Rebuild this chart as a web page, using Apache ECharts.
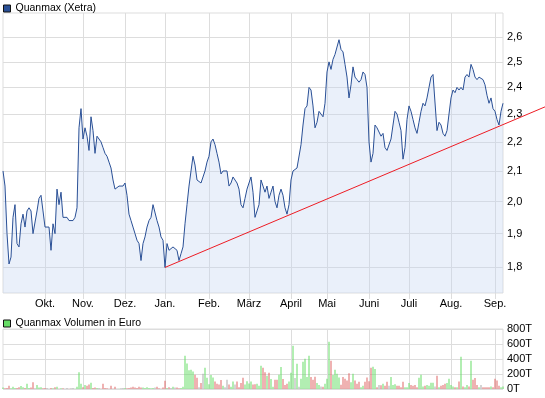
<!DOCTYPE html>
<html>
<head>
<meta charset="utf-8">
<script src="https://cdn.jsdelivr.net/npm/echarts@6/dist/echarts.min.js"></script>
<style>
html,body{margin:0;padding:0;background:#fff;}
#chart{width:545px;height:398px;}
</style>
</head>
<body>
<div id="chart"></div>
<script>
// Daily closing prices (EUR), Xetra
const price = [
2.10,2.05,1.90,1.81,1.83,1.95,1.99,1.87,1.86,1.93,
1.96,1.92,1.97,1.98,1.97,1.90,1.90,1.97,2.01,2.02,
1.97,1.92,1.92,1.92,1.85,1.93,1.90,2.04,1.99,2.03,
1.95,1.95,1.95,1.94,1.94,1.94,1.95,1.98,2.25,2.32,
2.21,2.25,2.22,2.17,2.29,2.24,2.16,2.22,2.22,2.20,
2.18,2.16,2.15,2.13,2.11,2.07,2.04,2.04,2.05,2.05,
2.05,2.06,2.02,1.96,1.94,1.92,1.90,1.88,1.87,1.82,
1.87,1.89,1.92,1.94,1.95,1.99,1.99,1.94,1.92,1.89,
1.88,1.80,1.87,1.85,1.85,1.86,1.86,1.85,1.82,1.84,
1.86,1.93,1.99,2.05,2.10,2.15,2.12,2.07,2.07,2.06,
2.06,2.10,2.13,2.15,2.20,2.21,2.19,2.16,2.13,2.09,
2.10,2.10,2.10,2.05,2.06,2.08,2.08,2.06,2.04,1.99,
1.98,2.01,2.04,2.06,2.08,2.03,1.95,1.97,1.99,2.07,
2.05,2.03,2.05,2.01,2.03,2.05,2.00,1.98,2.02,2.04,
2.02,1.98,1.96,1.99,2.07,2.10,2.10,2.11,2.11,2.19,
2.26,2.32,2.33,2.40,2.39,2.33,2.25,2.27,2.31,2.31,
2.29,2.34,2.46,2.50,2.47,2.51,2.53,2.56,2.59,2.55,
2.54,2.49,2.44,2.36,2.41,2.48,2.44,2.43,2.42,2.43,
2.46,2.45,2.40,2.20,2.13,2.16,2.26,2.25,2.25,2.22,
2.23,2.18,2.17,2.17,2.21,2.26,2.31,2.30,2.27,2.24,
2.14,2.18,2.28,2.33,2.31,2.28,2.25,2.23,2.27,2.31,
2.34,2.33,2.36,2.40,2.44,2.45,2.45,2.24,2.27,2.26,
2.23,2.22,2.24,2.30,2.36,2.39,2.38,2.40,2.39,2.40,
2.39,2.44,2.45,2.44,2.49,2.47,2.44,2.43,2.44,2.44,
2.43,2.41,2.37,2.34,2.36,2.32,2.31,2.28,2.26,2.31,
2.34
];
// Daily turnover (thousand EUR)
const volume = [
20,10,15,45,10,30,15,15,25,40,
25,15,70,15,20,90,10,55,20,25,
10,15,15,5,15,10,25,30,5,10,
10,5,15,5,10,15,5,30,222,70,
25,55,45,60,85,15,20,15,15,5,
70,15,10,5,45,5,30,5,5,10,
15,15,10,15,20,30,20,15,30,20,
20,15,25,15,10,15,20,30,10,5,
20,110,15,25,15,30,20,20,10,15,
30,444,340,250,257,235,190,150,25,80,
205,285,150,65,186,155,100,70,60,120,
45,25,124,60,30,100,60,100,25,80,
150,60,105,75,100,60,65,70,45,310,
285,222,178,218,133,30,124,124,190,293,
133,55,70,100,218,577,146,337,30,138,
364,404,160,444,160,124,164,80,53,35,
30,70,138,630,377,186,257,204,155,58,
160,138,115,209,89,204,115,70,98,25,
45,98,155,102,285,298,266,25,55,50,
70,45,98,45,160,55,65,45,45,25,
98,25,25,80,55,45,55,25,151,190,
35,45,55,45,85,85,35,178,25,45,
55,70,80,138,55,35,25,25,100,430,
35,25,55,35,377,124,146,55,25,55,
25,25,25,25,35,25,138,115,45,25,
35
];
const monthNames = ['Okt.','Nov.','Dez.','Jan.','Feb.','März','April','Mai','Juni','Juli','Aug.','Sep.'];
const monthStart = [21,40,61,81,103,123,144,162,183,203,224,246];
const priceTicks = [1.8,1.9,2.0,2.1,2.2,2.3,2.4,2.5,2.6];
const priceRange = [1.728,2.703];
const volTicks = {min:0,max:800,step:200};
// trend line: [day index, price]
const trend = [[81,1.80],[271,2.3265]];

const days = price.map((_, i) => String(i));
const FONT = 'Liberation Sans';
const GRID = '#dddddd';
const isMonth = (i) => monthStart.indexOf(i) >= 0;
const hidden = {axisLine:{show:false}, axisTick:{show:false}, axisLabel:{show:false}, splitLine:{show:false}};

const chart = echarts.init(document.getElementById('chart'), null, {renderer:'canvas'});
chart.setOption({
  animation:false,
  backgroundColor:'#ffffff',
  textStyle:{fontFamily:FONT},
  legend:[
    {data:[{name:'Quanmax (Xetra)', itemStyle:{color:'#2a5096', borderColor:'#111', borderWidth:1}}],
     left:3, top:3, padding:0, itemWidth:7, itemHeight:7, icon:'rect', selectedMode:false,
     textStyle:{fontSize:10.5, color:'#000', fontFamily:FONT}},
    {data:[{name:'Quanmax Volumen in Euro', itemStyle:{color:'#66dd66', borderColor:'#111', borderWidth:1}}],
     left:3, top:318, padding:0, itemWidth:7, itemHeight:7, icon:'rect', selectedMode:false,
     textStyle:{fontSize:10.5, color:'#000', fontFamily:FONT}}
  ],
  grid:[
    {left:3, top:13, width:500, height:280, show:true, borderColor:GRID, borderWidth:1, backgroundColor:'transparent', containLabel:false},
    {left:3, top:329, width:500, height:60, show:true, borderColor:GRID, borderWidth:1, backgroundColor:'transparent', containLabel:false},
    {left:3, top:13, width:542, height:280, show:false, containLabel:false}
  ],
  xAxis:[
    {type:'category', gridIndex:0, data:days, boundaryGap:false,
     axisLine:{show:false},
     axisTick:{show:true, length:6, interval:(i)=>isMonth(i), lineStyle:{color:GRID}},
     axisLabel:{interval:(i)=>isMonth(i), margin:5, fontSize:11, color:'#000', fontFamily:FONT,
       formatter:(v, i)=> monthNames[monthStart.indexOf(Number(v))] || ''},
     splitLine:{show:true, interval:(i)=>isMonth(i), lineStyle:{color:GRID, width:1}}},
    {type:'category', gridIndex:1, data:days, boundaryGap:false,
     axisLine:{show:false}, axisTick:{show:false}, axisLabel:{show:false},
     splitLine:{show:true, interval:(i)=>isMonth(i), lineStyle:{color:GRID, width:1}}},
    Object.assign({type:'value', gridIndex:2, min:0, max:271}, hidden)
  ],
  yAxis:[
    Object.assign({type:'log', gridIndex:0, min:priceRange[0], max:priceRange[1], logBase:10}, hidden),
    {type:'value', gridIndex:1, position:'right', min:volTicks.min, max:volTicks.max, interval:volTicks.step,
     axisLine:{show:false}, axisTick:{show:false},
     axisLabel:{margin:4, fontSize:11, color:'#000', fontFamily:FONT, formatter:'{value}T'},
     splitLine:{show:true, lineStyle:{color:GRID, width:1}}},
    Object.assign({type:'log', gridIndex:2, min:priceRange[0], max:priceRange[1], logBase:10}, hidden)
  ],
  series:[
    {type:'line', xAxisIndex:0, yAxisIndex:0, data:price, silent:true, symbol:'none', z:1,
     lineStyle:{opacity:0}, tooltip:{show:false},
     markLine:{silent:true, symbol:'none', z:1, animation:false,
       lineStyle:{color:GRID, width:1, type:'solid'},
       label:{show:true, position:'end', distance:4, fontSize:11, color:'#000', fontFamily:FONT,
         formatter:(p)=> Number(p.value).toFixed(1).replace('.', ',')},
       emphasis:{disabled:true},
       data: priceTicks.map(v => ({yAxis:v}))}},
    {name:'Quanmax (Xetra)', type:'line', xAxisIndex:0, yAxisIndex:0, data:price, symbol:'none', z:3,
     lineStyle:{color:'#2a5096', width:1},
     areaStyle:{color:'rgba(196,212,242,0.5)', origin:'start'}},
    {type:'line', xAxisIndex:2, yAxisIndex:2, data:trend, symbol:'none', z:6, silent:true, clip:false,
     lineStyle:{color:'#ee1c24', width:1, type:'solid'}},
    {name:'Quanmax Volumen in Euro', type:'bar', xAxisIndex:1, yAxisIndex:1, data:volume, barWidth:1,
     itemStyle:{color:(p)=>{
       const i = p.dataIndex;
       if (i === 0) return '#66dd66';
       const d = price[i] - price[i-1];
       return d > 0 ? '#66dd66' : (d < 0 ? '#e06666' : '#aaaaaa');
     }}}
  ]
});
</script>
</body>
</html>
